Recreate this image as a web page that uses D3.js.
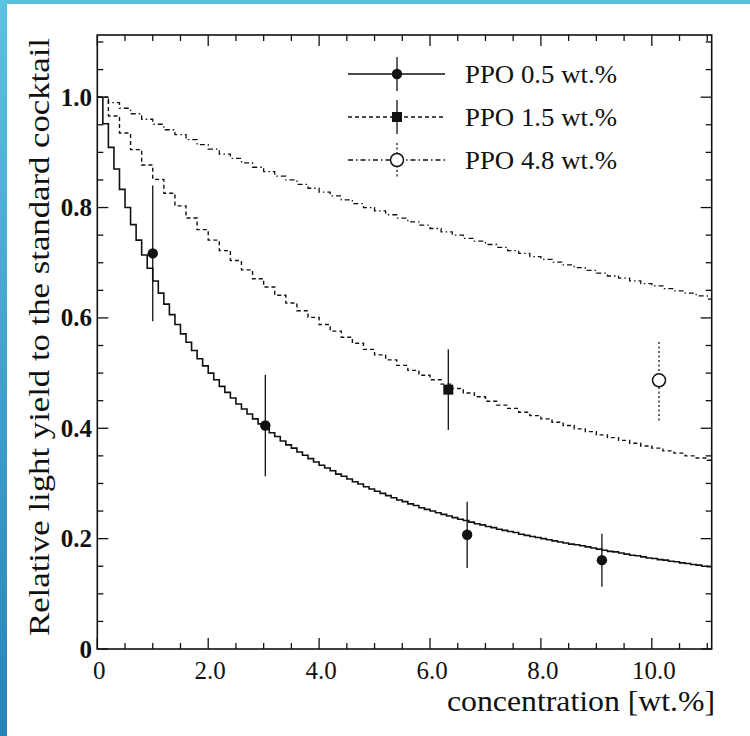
<!DOCTYPE html>
<html>
<head>
<meta charset="utf-8">
<script src="https://cdn.jsdelivr.net/npm/d3@7"></script>
<style>
  body { margin: 0; background: #fff; }
  svg { display: block; }
</style>
</head>
<body>
<div id="vis"></div>
<script>
// Relative light yield vs. concentration, three PPO cocktails

// bin widths of the step curves (wt.%)
const binSolid = 0.1;
const binOther = 0.2;

// PPO 0.5 wt.% curve, one value per 0.1 bin starting at 0
const curvePPO05 = [
  1.000, 0.952, 0.909, 0.870, 0.833, 0.800, 0.769, 0.741, 0.714, 0.690,
  0.667, 0.645, 0.625, 0.606, 0.588, 0.571, 0.556, 0.541, 0.526, 0.513,
  0.500, 0.488, 0.476, 0.465, 0.455, 0.444, 0.435, 0.426, 0.417, 0.408,
  0.400, 0.392, 0.385, 0.377, 0.370, 0.364, 0.357, 0.351, 0.345, 0.339,
  0.333, 0.328, 0.323, 0.317, 0.313, 0.308, 0.303, 0.299, 0.294, 0.290,
  0.286, 0.282, 0.278, 0.274, 0.270, 0.267, 0.263, 0.260, 0.256, 0.253,
  0.250, 0.247, 0.244, 0.241, 0.238, 0.235, 0.233, 0.230, 0.227, 0.225,
  0.222, 0.220, 0.217, 0.215, 0.213, 0.211, 0.208, 0.206, 0.204, 0.202,
  0.200, 0.198, 0.196, 0.194, 0.192, 0.190, 0.189, 0.187, 0.185, 0.183,
  0.181, 0.179, 0.177, 0.176, 0.174, 0.172, 0.170, 0.169, 0.167, 0.165,
  0.164, 0.162, 0.161, 0.159, 0.158, 0.156, 0.155, 0.153, 0.152, 0.150,
  0.149
];

// PPO 1.5 wt.% curve, one value per 0.2 bin
const curvePPO15 = [
  1.000, 0.966, 0.935, 0.905, 0.877, 0.851, 0.826, 0.803, 0.781, 0.760,
  0.741, 0.722, 0.704, 0.687, 0.671, 0.656, 0.641, 0.627, 0.613, 0.601,
  0.588, 0.576, 0.565, 0.554, 0.543, 0.533, 0.524, 0.514, 0.505, 0.496,
  0.488, 0.480, 0.472, 0.464, 0.457, 0.449, 0.442, 0.436, 0.429, 0.423,
  0.417, 0.411, 0.405, 0.399, 0.394, 0.388, 0.383, 0.378, 0.373, 0.368,
  0.364, 0.359, 0.355, 0.350, 0.346, 0.342
];

// PPO 4.8 wt.% curve, one value per 0.2 bin
const curvePPO48 = [
  1.000, 0.990, 0.980, 0.970, 0.960, 0.951, 0.941, 0.932, 0.923, 0.914,
  0.906, 0.897, 0.889, 0.881, 0.873, 0.865, 0.857, 0.850, 0.842, 0.835,
  0.828, 0.821, 0.814, 0.807, 0.800, 0.794, 0.787, 0.781, 0.774, 0.768,
  0.762, 0.756, 0.750, 0.744, 0.739, 0.733, 0.728, 0.722, 0.717, 0.711,
  0.706, 0.701, 0.696, 0.691, 0.686, 0.681, 0.676, 0.672, 0.667, 0.662,
  0.658, 0.653, 0.649, 0.645, 0.640, 0.634
];

// measured points: concentration, yield, error
const pointsPPO05 = [
  { c: 1.00, y: 0.717, e: 0.123 },
  { c: 3.03, y: 0.405, e: 0.092 },
  { c: 6.67, y: 0.207, e: 0.060 },
  { c: 9.10, y: 0.161, e: 0.048 }
];
const pointsPPO15 = [ { c: 6.33, y: 0.470, e: 0.073 } ];
const pointsPPO48 = [ { c: 10.13, y: 0.487, e: 0.073 } ];

const legendLabels = ["PPO 0.5 wt.%", "PPO 1.5 wt.%", "PPO 4.8 wt.%"];

const xTickValues = [0, 2, 4, 6, 8, 10];
const xTickLabels = ["0", "2.0", "4.0", "6.0", "8.0", "10.0"];
const yTickValues = [0, 0.2, 0.4, 0.6, 0.8, 1.0];
const yTickLabels = ["0", "0.2", "0.4", "0.6", "0.8", "1.0"];

const width = 750;
const height = 736;
const plot = { left: 97.3, right: 711.7, top: 35, bottom: 649 };
const serif = "Liberation Serif, DejaVu Serif, serif";

const svg = d3.select("#vis")
  .append("svg")
  .attr("width", width)
  .attr("height", height);

// slide border (blue strips left and top)
const defs = svg.append("defs");
const grad = defs.append("linearGradient")
  .attr("id", "edge")
  .attr("x1", 0).attr("y1", 0).attr("x2", 0).attr("y2", 1);
grad.append("stop").attr("offset", "0%").attr("stop-color", "#5bc2e1");
grad.append("stop").attr("offset", "100%").attr("stop-color", "#2a82b6");

svg.append("rect").attr("x", 0).attr("y", 0).attr("width", width).attr("height", height).attr("fill", "#fff");
svg.append("rect").attr("x", 0).attr("y", 0).attr("width", width).attr("height", 4).attr("fill", "#58c0df");
svg.append("rect").attr("x", 0).attr("y", 0).attr("width", 7).attr("height", height).attr("fill", "url(#edge)");

defs.append("clipPath").attr("id", "plotclip")
  .append("rect")
  .attr("x", plot.left).attr("y", plot.top)
  .attr("width", plot.right - plot.left)
  .attr("height", plot.bottom - plot.top);

// scales
const x = d3.scaleLinear().domain([0, 11.08]).range([plot.left, plot.right]);
const y = d3.scaleLinear().domain([0, 1.1127]).range([plot.bottom, plot.top]);

// ticks, all four sides pointing inward
const ink = "#111";
const xMinor = d3.range(0, 11.01, 0.5);
const yMinor = d3.range(0, 1.11, 0.05);

function tickLen(v, step) {
  return Math.abs(v / step - Math.round(v / step)) < 1e-6 ? 11 : 6;
}

const ticks = svg.append("g").attr("stroke", ink).attr("stroke-width", 1.3);
xMinor.forEach(v => {
  const len = tickLen(v, 2);
  ticks.append("line").attr("x1", x(v)).attr("x2", x(v)).attr("y1", plot.bottom).attr("y2", plot.bottom - len);
  ticks.append("line").attr("x1", x(v)).attr("x2", x(v)).attr("y1", plot.top).attr("y2", plot.top + len);
});
yMinor.forEach(v => {
  const len = tickLen(v, 0.2);
  ticks.append("line").attr("y1", y(v)).attr("y2", y(v)).attr("x1", plot.left).attr("x2", plot.left + len);
  ticks.append("line").attr("y1", y(v)).attr("y2", y(v)).attr("x1", plot.right).attr("x2", plot.right - len);
});

// frame
svg.append("rect")
  .attr("x", plot.left).attr("y", plot.top)
  .attr("width", plot.right - plot.left)
  .attr("height", plot.bottom - plot.top)
  .attr("fill", "none")
  .attr("stroke", ink)
  .attr("stroke-width", 1.6);

// tick labels
svg.append("g").selectAll("text")
  .data(xTickValues)
  .join("text")
  .attr("x", d => x(d) + 2)
  .attr("y", 679)
  .attr("text-anchor", "middle")
  .attr("fill", ink)
  .attr("font-family", serif)
  .attr("font-size", 25)
  .text((d, i) => xTickLabels[i]);

svg.append("g").selectAll("text")
  .data(yTickValues)
  .join("text")
  .attr("x", 92)
  .attr("y", d => y(d) + 8.5)
  .attr("text-anchor", "end")
  .attr("fill", ink)
  .attr("font-family", serif)
  .attr("font-size", 25)
  .attr("font-weight", "bold")
  .text((d, i) => yTickLabels[i]);

// axis titles
svg.append("text")
  .attr("x", 715)
  .attr("y", 711)
  .attr("text-anchor", "end")
  .attr("fill", ink)
  .attr("textLength", 268)
  .attr("lengthAdjust", "spacingAndGlyphs")
  .attr("font-family", serif)
  .attr("font-size", 30)
  .text("concentration [wt.%]");

svg.append("text")
  .attr("transform", "translate(49,337) rotate(-90)")
  .attr("x", 0)
  .attr("y", 0)
  .attr("text-anchor", "middle")
  .attr("fill", ink)
  .attr("textLength", 598)
  .attr("lengthAdjust", "spacingAndGlyphs")
  .attr("font-family", serif)
  .attr("font-size", 30)
  .text("Relative light yield to the standard cocktail");

// step curves
const stepLine = d3.line()
  .x(d => x(d[0]))
  .y(d => y(d[1]))
  .curve(d3.curveStepAfter);

function stepPoints(values, bin) {
  const pts = values.map((v, i) => [i * bin, v]);
  pts.push([values.length * bin, values[values.length - 1]]);
  return pts;
}

const styles = [
  { dash: null, width: 1.6 },
  { dash: "4,3", width: 1.4 },
  { dash: "5,3,1.5,3", width: 1.3 }
];

const curves = svg.append("g").attr("clip-path", "url(#plotclip)");
[[curvePPO05, binSolid], [curvePPO15, binOther], [curvePPO48, binOther]].forEach((c, i) => {
  curves.append("path")
    .attr("d", stepLine(stepPoints(c[0], c[1])))
    .attr("fill", "none")
    .attr("stroke", ink)
    .attr("stroke-width", styles[i].width)
    .attr("stroke-dasharray", styles[i].dash);
});

// error bars + markers
function drawMarker(g, kind, cx, cy) {
  if (kind === 0) {
    g.append("circle").attr("cx", cx).attr("cy", cy).attr("r", 5.2).attr("fill", ink);
  } else if (kind === 1) {
    g.append("rect").attr("x", cx - 5).attr("y", cy - 5).attr("width", 10).attr("height", 10).attr("fill", ink);
  } else {
    g.append("circle").attr("cx", cx).attr("cy", cy).attr("r", 6.5)
      .attr("fill", "#fff").attr("stroke", ink).attr("stroke-width", 1.5);
  }
}

const barDash = [null, null, "2,2.5"];
const marks = svg.append("g");
[pointsPPO05, pointsPPO15, pointsPPO48].forEach((pts, k) => {
  pts.forEach(p => {
    marks.append("line")
      .attr("x1", x(p.c)).attr("x2", x(p.c))
      .attr("y1", y(p.y - p.e)).attr("y2", y(p.y + p.e))
      .attr("stroke", ink)
      .attr("stroke-width", 1.3)
      .attr("stroke-dasharray", barDash[k]);
    drawMarker(marks, k, x(p.c), y(p.y));
  });
});

// legend
const legendRows = [74, 117, 160];
const legend = svg.append("g");
legendLabels.forEach((label, k) => {
  const ly = legendRows[k];
  legend.append("line")
    .attr("x1", 348).attr("x2", 445).attr("y1", ly).attr("y2", ly)
    .attr("stroke", ink)
    .attr("stroke-width", styles[k].width)
    .attr("stroke-dasharray", styles[k].dash);
  legend.append("line")
    .attr("x1", 397).attr("x2", 397).attr("y1", ly - 17).attr("y2", ly + 17)
    .attr("stroke", ink)
    .attr("stroke-width", 1.3)
    .attr("stroke-dasharray", barDash[k]);
  drawMarker(legend, k, 397, ly);
  legend.append("text")
    .attr("x", 465)
    .attr("y", ly + 8.5)
    .attr("fill", ink)
    .attr("textLength", 152)
    .attr("lengthAdjust", "spacingAndGlyphs")
    .attr("font-family", serif)
    .attr("font-size", 26)
    .text(label);
});
</script>
</body>
</html>
